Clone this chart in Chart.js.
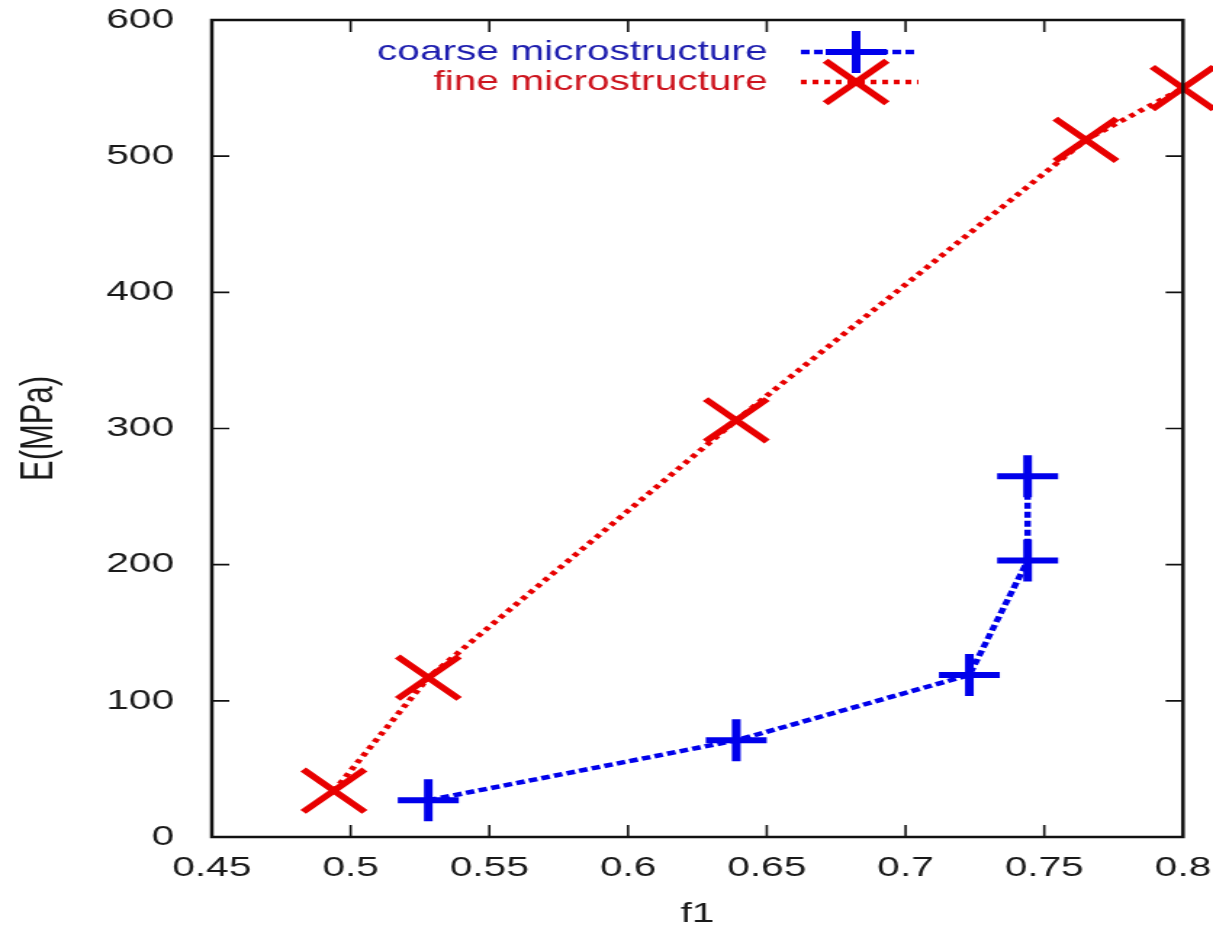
<!DOCTYPE html>
<html>
<head>
<meta charset="utf-8">
<script src="https://cdn.jsdelivr.net/npm/chart.js@4.4.0/dist/chart.umd.min.js"></script>
<style>
    html, body { margin: 0; padding: 0; background: #fff; overflow: hidden; }
    /* the original picture is a gnuplot plot stretched sideways, so draw narrow and stretch */
    #wrap { width: 836px; height: 931px; transform: scaleX(1.451); transform-origin: 0 0; }
</style>
</head>
<body>
<div id="wrap"><canvas id="chart" width="836" height="931"></canvas></div>
<script>
// values
const coarseF1 = [0.528, 0.639, 0.723, 0.744, 0.744];
const coarseE = [27, 71, 119, 203, 265];
const fineF1 = [0.494, 0.528, 0.639, 0.765, 0.8];
const fineE = [34, 117, 306, 512, 550];
const xTickValues = [0.45, 0.5, 0.55, 0.6, 0.65, 0.7, 0.75, 0.8];
const yTickValues = [0, 100, 200, 300, 400, 500, 600];

const FONT = '"Liberation Sans", Arial, sans-serif';
const BLUE = 'rgb(0, 0, 235)';
const RED = 'rgb(232, 0, 0)';

// gnuplot style box with inward ticks on all four sides
const framePlugin = {
    id: 'frame',
    afterDatasetsDraw(chart) {
        const { ctx, chartArea: a, scales: { x, y } } = chart;
        ctx.save();
        ctx.strokeStyle = '#111';
        ctx.lineWidth = 1.6;
        ctx.beginPath();
        x.ticks.forEach(t => {
            const px = x.getPixelForValue(t.value);
            if (px <= a.left + 1 || px >= a.right - 1) return;
            ctx.moveTo(px, a.bottom); ctx.lineTo(px, a.bottom - 12);
            ctx.moveTo(px, a.top); ctx.lineTo(px, a.top + 12);
        });
        y.ticks.forEach(t => {
            const py = y.getPixelForValue(t.value);
            if (py <= a.top + 1 || py >= a.bottom - 1) return;
            ctx.moveTo(a.left, py); ctx.lineTo(a.left + 12, py);
            ctx.moveTo(a.right, py); ctx.lineTo(a.right - 12, py);
        });
        ctx.stroke();
        ctx.lineWidth = 2.5;
        ctx.strokeRect(a.left, a.top, a.right - a.left, a.bottom - a.top);
        ctx.restore();
    }
};

function drawMark(ctx, style, cx, cy, r) {
    ctx.beginPath();
    if (style === 'cross') {
        ctx.moveTo(cx - r, cy); ctx.lineTo(cx + r, cy);
        ctx.moveTo(cx, cy - r); ctx.lineTo(cx, cy + r);
    } else {
        const d = r * Math.SQRT1_2;
        ctx.moveTo(cx - d, cy - d); ctx.lineTo(cx + d, cy + d);
        ctx.moveTo(cx - d, cy + d); ctx.lineTo(cx + d, cy - d);
    }
    ctx.stroke();
}

// key inside the top of the plot: text right-aligned, then line sample with marker
const keyPlugin = {
    id: 'gpKey',
    afterDraw(chart) {
        const ctx = chart.ctx;
        const rows = [52, 82];
        const textColors = ['rgb(30, 30, 175)', 'rgb(205, 20, 30)'];
        ctx.save();
        chart.data.datasets.forEach((ds, i) => {
            const yy = rows[i];
            ctx.font = '28px ' + FONT;
            ctx.fillStyle = textColors[i];
            ctx.textAlign = 'right';
            ctx.textBaseline = 'alphabetic';
            ctx.fillText(ds.label, 529, yy + 7.5);

            ctx.strokeStyle = ds.borderColor;
            ctx.lineWidth = ds.borderWidth;
            ctx.setLineDash(ds.borderDash);
            ctx.beginPath();
            ctx.moveTo(552, yy);
            ctx.lineTo(633, yy);
            ctx.stroke();
            ctx.setLineDash([]);
            ctx.lineWidth = ds.pointBorderWidth;
            drawMark(ctx, ds.pointStyle, 590, yy, ds.pointRadius);
        });
        ctx.restore();
    }
};

const ctx = document.getElementById('chart').getContext('2d');

const chart = new Chart(ctx, {
    type: 'scatter',
    data: {
        datasets: [
            {
                label: 'coarse microstructure',
                data: coarseF1.map((f, i) => ({ x: f, y: coarseE[i] })),
                showLine: true,
                borderColor: BLUE,
                backgroundColor: BLUE,
                borderWidth: 4.5,
                borderDash: [6, 3],
                pointStyle: 'cross',
                pointRadius: 21,
                pointBorderWidth: 6,
                pointBorderColor: BLUE,
                pointHoverRadius: 21,
                clip: false
            },
            {
                label: 'fine microstructure',
                data: fineF1.map((f, i) => ({ x: f, y: fineE[i] })),
                showLine: true,
                borderColor: RED,
                backgroundColor: RED,
                borderWidth: 4.5,
                borderDash: [4, 4],
                pointStyle: 'crossRot',
                pointRadius: 30,
                pointBorderWidth: 5.5,
                pointBorderColor: RED,
                pointHoverRadius: 30,
                clip: false
            }
        ]
    },
    options: {
        responsive: false,
        animation: false,
        devicePixelRatio: 1,
        layout: {
            autoPadding: false,   // big markers would otherwise push the box inwards
            padding: { left: 0, top: 20, right: 20.7, bottom: 0 }
        },
        plugins: {
            legend: { display: false },
            tooltip: { enabled: false }
        },
        scales: {
            x: {
                type: 'linear',
                min: 0.45,
                max: 0.8,
                afterBuildTicks: s => { s.ticks = xTickValues.map(v => ({ value: v })); },
                afterFit: s => { s.height = 94; s.paddingLeft = 0; s.paddingRight = 0; },
                grid: { display: false },
                border: { display: false },
                ticks: {
                    color: '#1a1a1a',
                    padding: 6,
                    maxRotation: 0,
                    autoSkip: false,
                    font: { family: FONT, size: 28 },
                    callback: v => String(+v.toFixed(2))
                },
                title: {
                    display: true,
                    text: 'f1',
                    color: '#1a1a1a',
                    padding: { top: 0, bottom: 0 },
                    font: { family: FONT, size: 28 }
                }
            },
            y: {
                type: 'linear',
                min: 0,
                max: 600,
                afterBuildTicks: s => { s.ticks = yTickValues.map(v => ({ value: v })); },
                afterFit: s => { s.width = 146; s.paddingTop = 0; s.paddingBottom = 0; },
                grid: { display: false },
                border: { display: false },
                ticks: {
                    color: '#1a1a1a',
                    padding: 18,
                    autoSkip: false,
                    font: { family: FONT, size: 28 }
                },
                title: {
                    display: true,
                    text: 'E(MPa)',
                    color: '#1a1a1a',
                    padding: { top: 9, bottom: 0 },
                    font: { family: FONT, size: 31 }
                }
            }
        }
    },
    plugins: [framePlugin, keyPlugin]
});
</script>
</body>
</html>
